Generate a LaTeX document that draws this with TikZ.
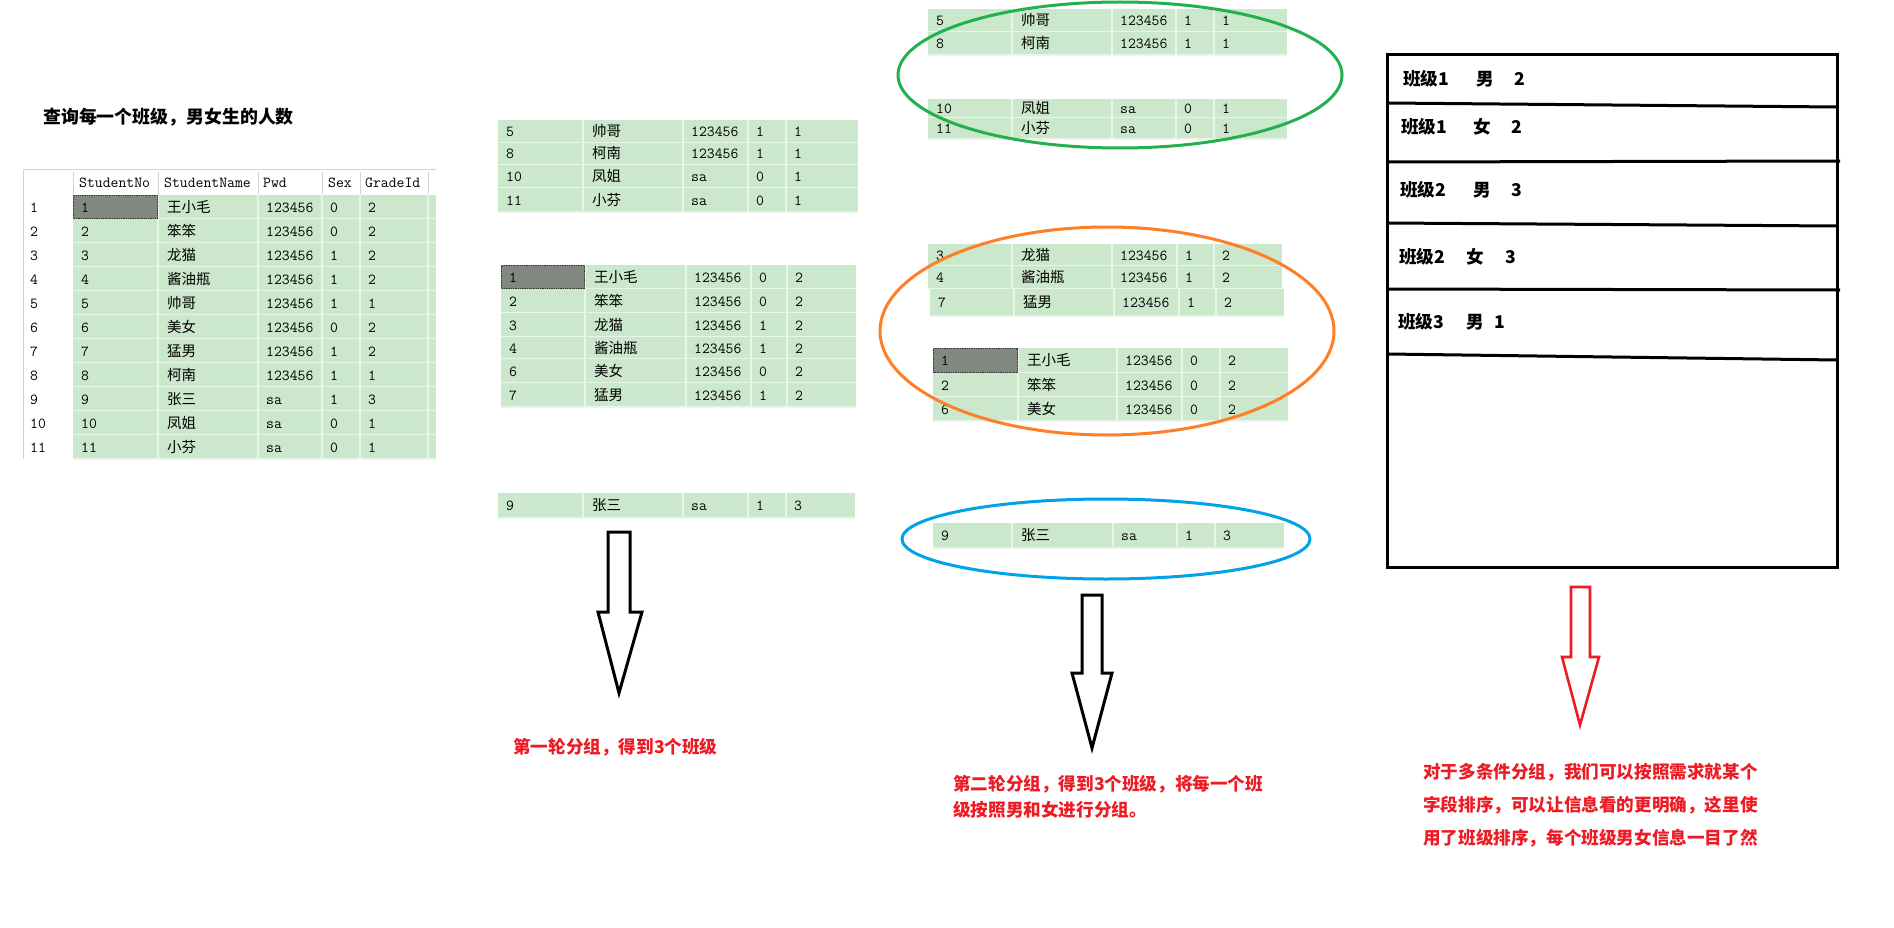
\documentclass[tikz,border=0pt]{standalone}
\usepackage{fontspec}
\newfontfamily\cjk{Noto Sans CJK SC}
\definecolor{cellgreen}{RGB}{204,232,204}
\definecolor{graycell}{RGB}{128,136,128}
\definecolor{pgreen}{RGB}{34,177,76}
\definecolor{porange}{RGB}{255,127,39}
\definecolor{pblue}{RGB}{0,162,232}
\definecolor{pred}{RGB}{237,28,36}
\definecolor{hdrline}{RGB}{210,210,210}
\newif\ifselrow
\newcommand\setcols[6]{\def\cA{#1}\def\cB{#2}\def\cC{#3}\def\cD{#4}\def\cE{#5}\def\cF{#6}}
% #1 name, #2 top, #3 height, #4 no, #5 name, #6 pwd, #7 sex, #8 grade
\newcommand\grow[8]{%
  \fill[cellgreen] (\cA,#2) rectangle (\cF,#2+#3);
  \draw[cellsep] (\cA,#2+#3) -- (\cF,#2+#3)
     (\cB,#2) -- (\cB,#2+#3) (\cC,#2) -- (\cC,#2+#3)
     (\cD,#2) -- (\cD,#2+#3) (\cE,#2) -- (\cE,#2+#3);
  \ifselrow
    \fill[graycell] (\cA,#2) rectangle (\cB,#2+#3);
    \draw[densely dotted, black!80, line width=0.8pt] (\cA+0.5,#2+0.5) rectangle (\cB-0.5,#2+#3-0.5);
  \fi
  \node[tnum]  (#1a) at (\cA+8,#2+#3/2+5) {#4};
  \node[tname] (#1b) at (\cB+9,#2+#3/2+5) {#5};
  \node[tnum]  (#1c) at (\cC+8,#2+#3/2+5) {#6};
  \node[tnum]  (#1d) at (\cD+8,#2+#3/2+5) {#7};
  \node[tnum]  (#1e) at (\cE+8,#2+#3/2+5) {#8};
}
\begin{document}
\begin{tikzpicture}[x=1pt,y=-1pt,
  tnum/.style={anchor=base west, inner sep=0pt, font=\ttfamily\fontsize{15.3}{15.3}\selectfont},
  tname/.style={anchor=base west, inner sep=0pt, font=\cjk\fontsize{14.5}{15}\selectfont},
  cellsep/.style={draw=white!55!cellgreen, line width=1.2pt},
  boldtxt/.style={anchor=base west, inner sep=0pt, font=\cjk\bfseries\fontsize{17.6}{17.6}\selectfont},
  redtxt/.style={boldtxt, text=pred, align=left},
  blockarrow/.style={line width=3pt, line join=miter},
  ring/.style={line width=3pt},
  boxline/.style={line width=3pt}]
\useasboundingbox (0,0) rectangle (1894,928);
\fill[white] (0,0) rectangle (1894,928);

% ---------- title ----------
\node[boldtxt, font=\cjk\bfseries\fontsize{17.9}{17.9}\selectfont] (title) at (43,123.5) {查询每一个班级，男女生的人数};

% ---------- original table ----------
\draw[hdrline, line width=1pt] (23,170) -- (436,170) (23,170) -- (23,459);
\foreach \hx in {73,158,258,322,360,428} \draw[hdrline, line width=1pt] (\hx,172) -- (\hx,194);
\node[tnum] (h1) at (79,188) {StudentNo};
\node[tnum] (h2) at (164,188) {StudentName};
\node[tnum] (h3) at (263,188) {Pwd};
\node[tnum] (h4) at (328,188) {Sex};
\node[tnum] (h5) at (365,188) {GradeId};
\setcols{73}{158}{258}{322}{360}{436}
\selrowtrue\grow{r1}{195}{24}{1}{王小毛}{123456}{0}{2}\selrowfalse
\grow{r2}{219}{24}{2}{笨笨}{123456}{0}{2}
\grow{r3}{243}{24}{3}{龙猫}{123456}{1}{2}
\grow{r4}{267}{24}{4}{酱油瓶}{123456}{1}{2}
\grow{r5}{291}{24}{5}{帅哥}{123456}{1}{1}
\grow{r6}{315}{24}{6}{美女}{123456}{0}{2}
\grow{r7}{339}{24}{7}{猛男}{123456}{1}{2}
\grow{r8}{363}{24}{8}{柯南}{123456}{1}{1}
\grow{r9}{387}{24}{9}{张三}{sa}{1}{3}
\grow{r10}{411}{24}{10}{凤姐}{sa}{0}{1}
\grow{r11}{435}{24}{11}{小芬}{sa}{0}{1}
\draw[cellsep] (428,195) -- (428,459);
\foreach \i in {1,...,11} \node[tnum] (rn\i) at (30,{195+(\i-1)*24+17}) {\i};

% ---------- first grouping ----------
\setcols{498}{583}{683}{748}{786}{858}
\grow{a1}{120}{23}{5}{帅哥}{123456}{1}{1}
\grow{a2}{143}{22}{8}{柯南}{123456}{1}{1}
\grow{a3}{165}{23}{10}{凤姐}{sa}{0}{1}
\grow{a4}{188}{24}{11}{小芬}{sa}{0}{1}

\setcols{501}{585}{686}{751}{787}{856}
\selrowtrue\grow{b1}{265}{24}{1}{王小毛}{123456}{0}{2}\selrowfalse
\grow{b2}{289}{24}{2}{笨笨}{123456}{0}{2}
\grow{b3}{313}{24}{3}{龙猫}{123456}{1}{2}
\grow{b4}{337}{22}{4}{酱油瓶}{123456}{1}{2}
\grow{b5}{359}{24}{6}{美女}{123456}{0}{2}
\grow{b6}{383}{24}{7}{猛男}{123456}{1}{2}

\setcols{498}{583}{683}{748}{786}{855}
\grow{c1}{493}{25}{9}{张三}{sa}{1}{3}

% ---------- second grouping ----------
\setcols{928}{1012}{1112}{1176}{1214}{1287}
\grow{d1}{9}{23}{5}{帅哥}{123456}{1}{1}
\grow{d2}{32}{23}{8}{柯南}{123456}{1}{1}
\grow{d3}{99}{19}{10}{凤姐}{sa}{0}{1}
\grow{d4}{118}{21}{11}{小芬}{sa}{0}{1}

\setcols{928}{1012}{1112}{1177}{1214}{1282}
\grow{e1}{244}{22}{3}{龙猫}{123456}{1}{2}
\grow{e2}{266}{23}{4}{酱油瓶}{123456}{1}{2}
\setcols{930}{1014}{1114}{1179}{1216}{1284}
\grow{e3}{289}{27}{7}{猛男}{123456}{1}{2}

\setcols{933}{1018}{1117}{1182}{1220}{1288}
\selrowtrue\grow{f1}{348}{25}{1}{王小毛}{123456}{0}{2}\selrowfalse
\grow{f2}{373}{24}{2}{笨笨}{123456}{0}{2}
\grow{f3}{397}{24}{6}{美女}{123456}{0}{2}

\setcols{933}{1012}{1113}{1177}{1215}{1284}
\grow{g1}{523}{25}{9}{张三}{sa}{1}{3}

\draw[pgreen, ring]  (1120,75)  ellipse [x radius=222pt, y radius=73pt];
\draw[porange, ring] (1107,331) ellipse [x radius=227pt, y radius=104pt];
\draw[pblue, ring]   (1106,539) ellipse [x radius=204pt, y radius=40pt];

% ---------- result box ----------
\draw[boxline] (1387,55) rectangle (1837,567);
\draw[boxline] (1387,103) -- (1837,107);
\draw[boxline] (1387,162) -- (1840,161);
\draw[boxline] (1387,223) -- (1837,226);
\draw[boxline] (1387,289) -- (1840,290);
\draw[boxline] (1387,354) -- (1837,360);
\node[boldtxt] (k1) at (1403,85.5)  {班级1\hspace{27pt}男\hspace{20.5pt}2};
\node[boldtxt] (k2) at (1401,133.5) {班级1\hspace{26pt}女\hspace{20.5pt}2};
\node[boldtxt] (k3) at (1400,196.5) {班级2\hspace{27pt}男\hspace{20.5pt}3};
\node[boldtxt] (k4) at (1399,263.5) {班级2\hspace{21pt}女\hspace{21.5pt}3};
\node[boldtxt] (k5) at (1398,328.5) {班级3\hspace{22pt}男\hspace{10.5pt}1};

% ---------- block arrows ----------
\draw[blockarrow] (608,532) -- (630,532) -- (630,612) -- (642,612) -- (619,693) -- (598,612) -- (608,612) -- cycle;
\draw[blockarrow] (1082,595) -- (1102,595) -- (1102,673) -- (1112,673) -- (1092,748) -- (1072,673) -- (1082,673) -- cycle;
\draw[blockarrow, pred, line width=2.6pt] (1571,587) -- (1590,587) -- (1590,657) -- (1599,657) -- (1580,725) -- (1562,657) -- (1571,657) -- cycle;

% ---------- red captions ----------
\node[redtxt] (cap1) at (513,753.5) {第一轮分组，得到3个班级};
\node[redtxt, font=\cjk\bfseries\fontsize{17.6}{26}\selectfont] (cap2) at (953,816.5)
  {第二轮分组，得到3个班级，将每一个班\\级按照男和女进行分组。};
\node[redtxt, font=\cjk\bfseries\fontsize{17.6}{33}\selectfont] (cap3) at (1423,844.5)
  {对于多条件分组，我们可以按照需求就某个\\字段排序，可以让信息看的更明确，这里使\\用了班级排序，每个班级男女信息一目了然};
\end{tikzpicture}
\end{document}
